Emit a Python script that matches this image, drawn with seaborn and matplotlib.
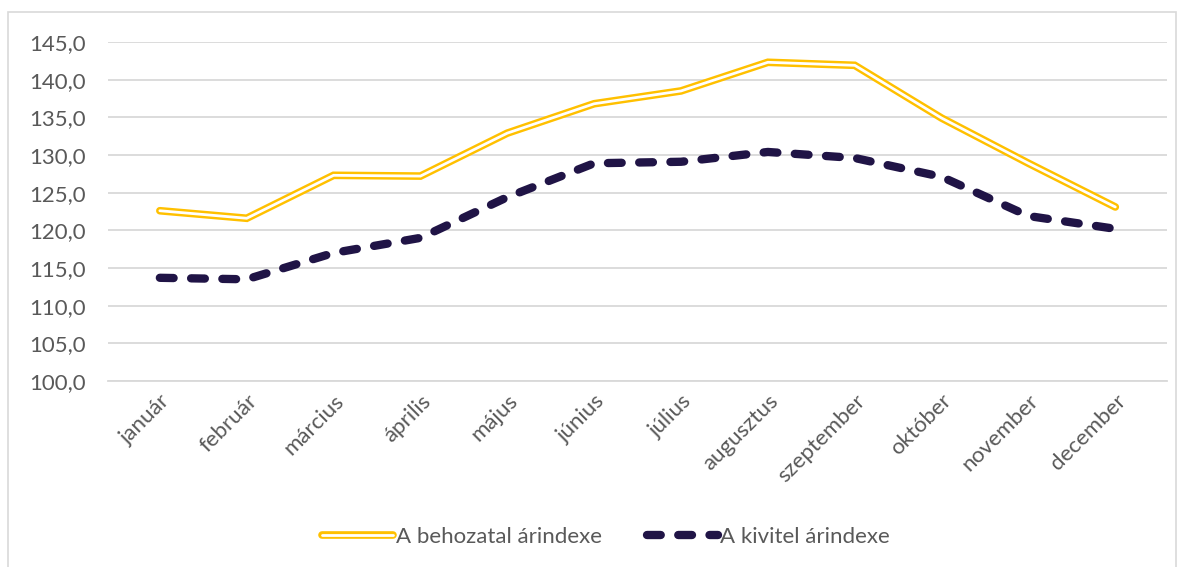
import matplotlib.pyplot as plt
import pandas as pd
import seaborn as sns
from matplotlib.lines import Line2D
from matplotlib.patches import Rectangle

months = ["január", "február", "március", "április", "május", "június",
          "július", "augusztus", "szeptember", "október", "november", "december"]
behozatal = [122.6, 121.6, 127.3, 127.2, 132.9, 136.8, 138.5, 142.3, 141.9, 134.9, 128.9, 123.1]
kivitel = [113.7, 113.5, 117.0, 119.0, 124.4, 128.9, 129.1, 130.4, 129.6, 127.1, 121.9, 120.2]

yellow = "#FFC000"
navy = "#201446"
grey = "#595959"

df = pd.DataFrame({"honap": months, "behozatal": behozatal, "kivitel": kivitel})

sns.set_style("white")
plt.rcParams["font.family"] = ["Lato", "DejaVu Sans"]

fig = plt.figure(figsize=(11.84, 5.67), dpi=100)
ax = fig.add_axes([0.091, 0.328, 0.895, 0.598])

# double line: thick yellow with a white core
sns.lineplot(data=df, x="honap", y="behozatal", ax=ax, color=yellow, lw=5.5,
             sort=False, solid_joinstyle="miter", zorder=3)
sns.lineplot(data=df, x="honap", y="behozatal", ax=ax, color="white", lw=2,
             sort=False, solid_joinstyle="miter", zorder=4)
sns.lineplot(data=df, x="honap", y="kivitel", ax=ax, color=navy, lw=6,
             sort=False, dash_capstyle="round", solid_joinstyle="round", zorder=5)
ax.lines[-1].set_dashes([1.65, 2.1])

ax.set_ylim(100, 145)
ax.set_yticks(range(100, 146, 5))
ax.set_yticklabels([f"{v},0" for v in range(100, 146, 5)])
ax.set_xlim(-0.6, 11.6)
ax.grid(axis="y", color="#d9d9d9", lw=1.3)
ax.set_axisbelow(True)
for s in ax.spines.values():
    s.set_visible(False)
ax.spines["bottom"].set_visible(True)
ax.spines["bottom"].set_color("#d9d9d9")
ax.spines["bottom"].set_linewidth(1.3)
ax.set_xlabel("")
ax.set_ylabel("")
ax.tick_params(axis="both", length=0, labelsize=16, labelcolor=grey)
ax.tick_params(axis="y", pad=16)
plt.setp(ax.get_xticklabels(), rotation=45, ha="right", rotation_mode="anchor")
ax.tick_params(axis="x", pad=7)

h1 = (Line2D([], [], color=yellow, lw=5.5), Line2D([], [], color="white", lw=2))
h2 = Line2D([], [], color=navy, lw=6, dash_capstyle="round")
h2.set_dashes([1.65, 2.1])
fig.legend([h1, h2], ["A behozatal árindexe", "A kivitel árindexe"],
           loc="center", bbox_to_anchor=(0.512, 0.053), ncol=2, frameon=False,
           fontsize=16, labelcolor=grey, handlelength=3.2, handletextpad=0.12,
           columnspacing=2.0)

fig.add_artist(Rectangle((0.007, -0.01), 0.986, 0.989, transform=fig.transFigure,
                         fill=False, edgecolor="#d9d9d9", lw=1.2))

fig.savefig("out.png", dpi=100)
